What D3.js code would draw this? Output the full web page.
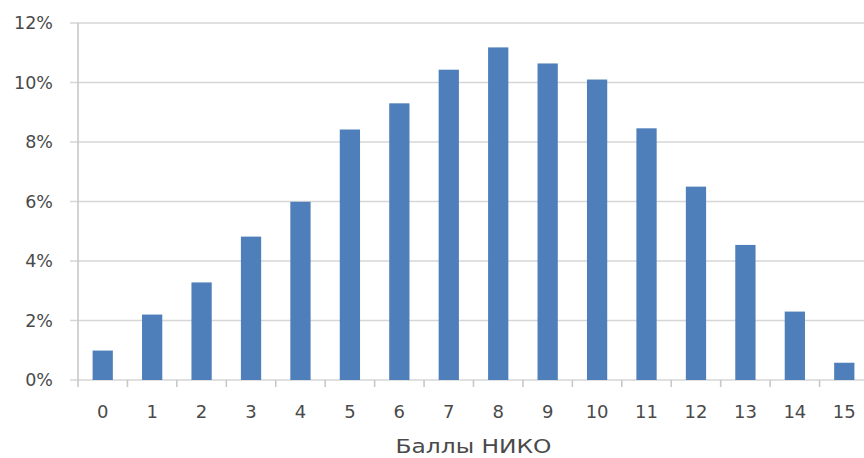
<!DOCTYPE html>
<html>
<head>
<meta charset="utf-8">
<script src="https://cdn.jsdelivr.net/npm/d3@7"></script>
<style>
  html, body { margin: 0; padding: 0; background: #fff; }
  svg { display: block; }
  text { font-family: "DejaVu Sans", sans-serif; fill: #4a4a4a; }
</style>
</head>
<body>
<svg id="chart" width="864" height="458"></svg>
<script>
// Score distribution (share of participants per score)
const scores = ["0","1","2","3","4","5","6","7","8","9","10","11","12","13","14","15"];
const shares = [0.99, 2.2, 3.28, 4.82, 5.99, 8.42, 9.3, 10.43, 11.18, 10.64, 10.1, 8.46, 6.5, 4.54, 2.3, 0.58];
const yTicks = [0, 2, 4, 6, 8, 10, 12];
const xTitle = "Баллы НИКО";

const svg = d3.select("#chart");
const plot = { left: 78, right: 869, top: 23, bottom: 380 };

const x = d3.scaleBand().domain(scores).range([plot.left, plot.right]).paddingInner(0.59).paddingOuter(0.295);
const xEdges = d3.scaleLinear().domain([0, scores.length]).range([plot.left, plot.right]);
const y = d3.scaleLinear().domain([0, 12]).range([plot.bottom, plot.top]);

// horizontal gridlines with short ticks left of the axis
svg.append("g").selectAll("line").data(yTicks).join("line")
  .attr("x1", plot.left - 8).attr("x2", 864)
  .attr("y1", d => y(d)).attr("y2", d => y(d))
  .attr("stroke", "#d6d6d6").attr("stroke-width", 1.6);

// y tick labels
svg.append("g").selectAll("text").data(yTicks).join("text")
  .attr("x", 53).attr("y", d => y(d)).attr("dy", "0.36em")
  .attr("text-anchor", "end").style("font-size", "17.5px")
  .text(d => d + "%");

// vertical axis line
svg.append("line")
  .attr("x1", plot.left).attr("x2", plot.left).attr("y1", plot.top).attr("y2", plot.bottom + 7)
  .attr("stroke", "#c8c8c8").attr("stroke-width", 1.6);

// category boundary ticks
svg.append("g").selectAll("line").data(d3.range(1, scores.length + 1)).join("line")
  .attr("x1", d => xEdges(d)).attr("x2", d => xEdges(d))
  .attr("y1", plot.bottom).attr("y2", plot.bottom + 7)
  .attr("stroke", "#c8c8c8").attr("stroke-width", 1.6);

// bars
svg.append("g").selectAll("rect").data(scores).join("rect")
  .attr("x", d => x(d)).attr("width", x.bandwidth())
  .attr("y", (d, i) => y(shares[i]))
  .attr("height", (d, i) => y(0) - y(shares[i]))
  .attr("fill", "#4f7fba");

// x tick labels
svg.append("g").selectAll("text").data(scores).join("text")
  .attr("x", d => x(d) + x.bandwidth() / 2).attr("y", 418)
  .attr("text-anchor", "middle").style("font-size", "18px")
  .text(d => d);

// axis title
svg.append("text")
  .attr("x", (plot.left + plot.right) / 2).attr("y", 453)
  .attr("text-anchor", "middle").style("font-size", "20px")
  .attr("textLength", 156).attr("lengthAdjust", "spacingAndGlyphs")
  .text(xTitle);
</script>
</body>
</html>
